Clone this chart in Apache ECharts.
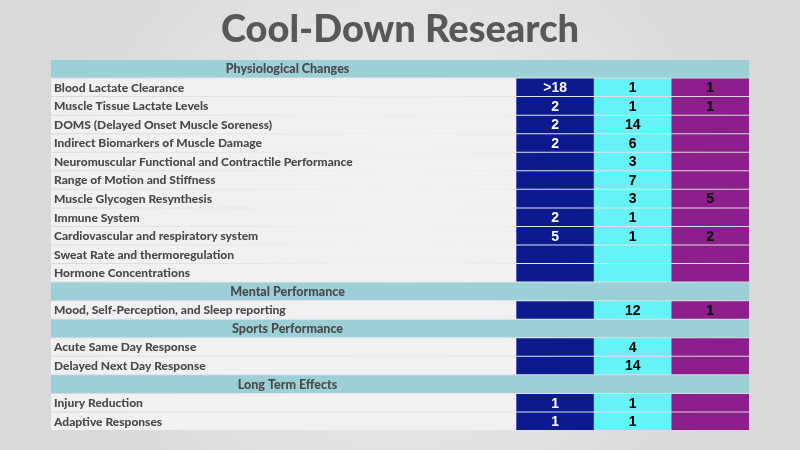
<!DOCTYPE html>
<html><head><meta charset="utf-8">
<script src="https://cdn.jsdelivr.net/npm/echarts@6/dist/echarts.min.js"></script>
<style>html,body{margin:0;padding:0;background:#e6e6e8;}#c{width:800px;height:450px;}</style>
</head><body><div id="c"></div>
<script>
const rowLabels = ['Physiological Changes','Blood Lactate Clearance','Muscle Tissue Lactate Levels','DOMS (Delayed Onset Muscle Soreness)','Indirect Biomarkers of Muscle Damage','Neuromuscular Functional and Contractile Performance','Range of Motion and Stiffness','Muscle Glycogen Resynthesis','Immune System','Cardiovascular and respiratory system','Sweat Rate and thermoregulation','Hormone Concentrations','Mental Performance','Mood, Self-Perception, and Sleep reporting','Sports Performance','Acute Same Day Response','Delayed Next Day Response','Long Term Effects','Injury Reduction','Adaptive Responses'];
const isSection = [1,0,0,0,0,0,0,0,0,0,0,0,1,0,1,0,0,1,0,0];
const blueVals   = ['','>18','2','2','2','','','','2','5','','','','','','','','','1','1'];
const cyanVals   = ['','1','1','14','6','3','7','3','1','1','','','','12','','4','14','','1','1'];
const purpleVals = ['','1','1','','','','','5','','2','','','','1','','','','','',''];
const colors = ['#0b1a8e','#66f3f8','#8c1f8c'];
const textCol = ['#ffffff','#000000','#000000'];

const chart = echarts.init(document.getElementById('c'));
const slots = ['0','1','2','3','4','5','6','7','8'];
chart.setOption({
  backgroundColor: {type:'radial',x:0.5,y:0.5,r:0.8,colorStops:[{offset:0,color:'#f2f2f4'},{offset:1,color:'#d9d9dc'}]},
  title:{text:'Cool-Down Research',left:'center',top:6,textStyle:{fontFamily:'Lato',fontWeight:900,fontSize:38,color:'#58585a'}},
  grid:{left:51,right:51,top:60,bottom:19},
  xAxis:{type:'category',data:slots,show:false},
  yAxis:{type:'category',data:rowLabels.map((_,i)=>i),inverse:true,show:false},
  series:[{
    type:'custom',
    data: rowLabels.map((_,i)=>[i]),
    renderItem:function(params, api){
      const r = api.value(0);
      const size = api.size([1,1]);
      const w = size[0], h = size[1];
      const p0 = api.coord([0, r]);
      const x0 = p0[0]-w/2, y0 = p0[1]-h/2;
      const children = [];
      if (isSection[r]) {
        children.push({type:'rect',shape:{x:x0,y:y0,width:w*9,height:h-1},style:{fill:'#9dcfd6'}});
        children.push({type:'text',style:{text:rowLabels[r],x:x0+w*3.05,y:y0+h/2,align:'center',verticalAlign:'middle',fontFamily:'Lato',fontWeight:900,fontSize:12.5,fill:'#4a4a4c'}});
      } else {
        children.push({type:'rect',shape:{x:x0,y:y0,width:w*6,height:h-1},style:{fill:'#f1f1f3'}});
        children.push({type:'text',style:{text:rowLabels[r],x:x0+3,y:y0+h/2,align:'left',verticalAlign:'middle',fontFamily:'Lato',fontWeight:900,fontSize:12,fill:'#4a4a4c'}});
        const vals=[blueVals[r],cyanVals[r],purpleVals[r]];
        for (let k=0;k<3;k++){
          const pc = api.coord([6+k, r]);
          children.push({type:'rect',shape:{x:pc[0]-w/2,y:y0,width:w,height:h-1},style:{fill:colors[k]}});
          if (vals[k]!=='') children.push({type:'text',style:{text:vals[k],x:pc[0],y:y0+h/2+0.5,align:'center',verticalAlign:'middle',fontFamily:'Liberation Sans',fontWeight:'bold',fontSize:14,fill:textCol[k]}});
        }
      }
      return {type:'group',children:children};
    }
  }]
});
</script></body></html>
